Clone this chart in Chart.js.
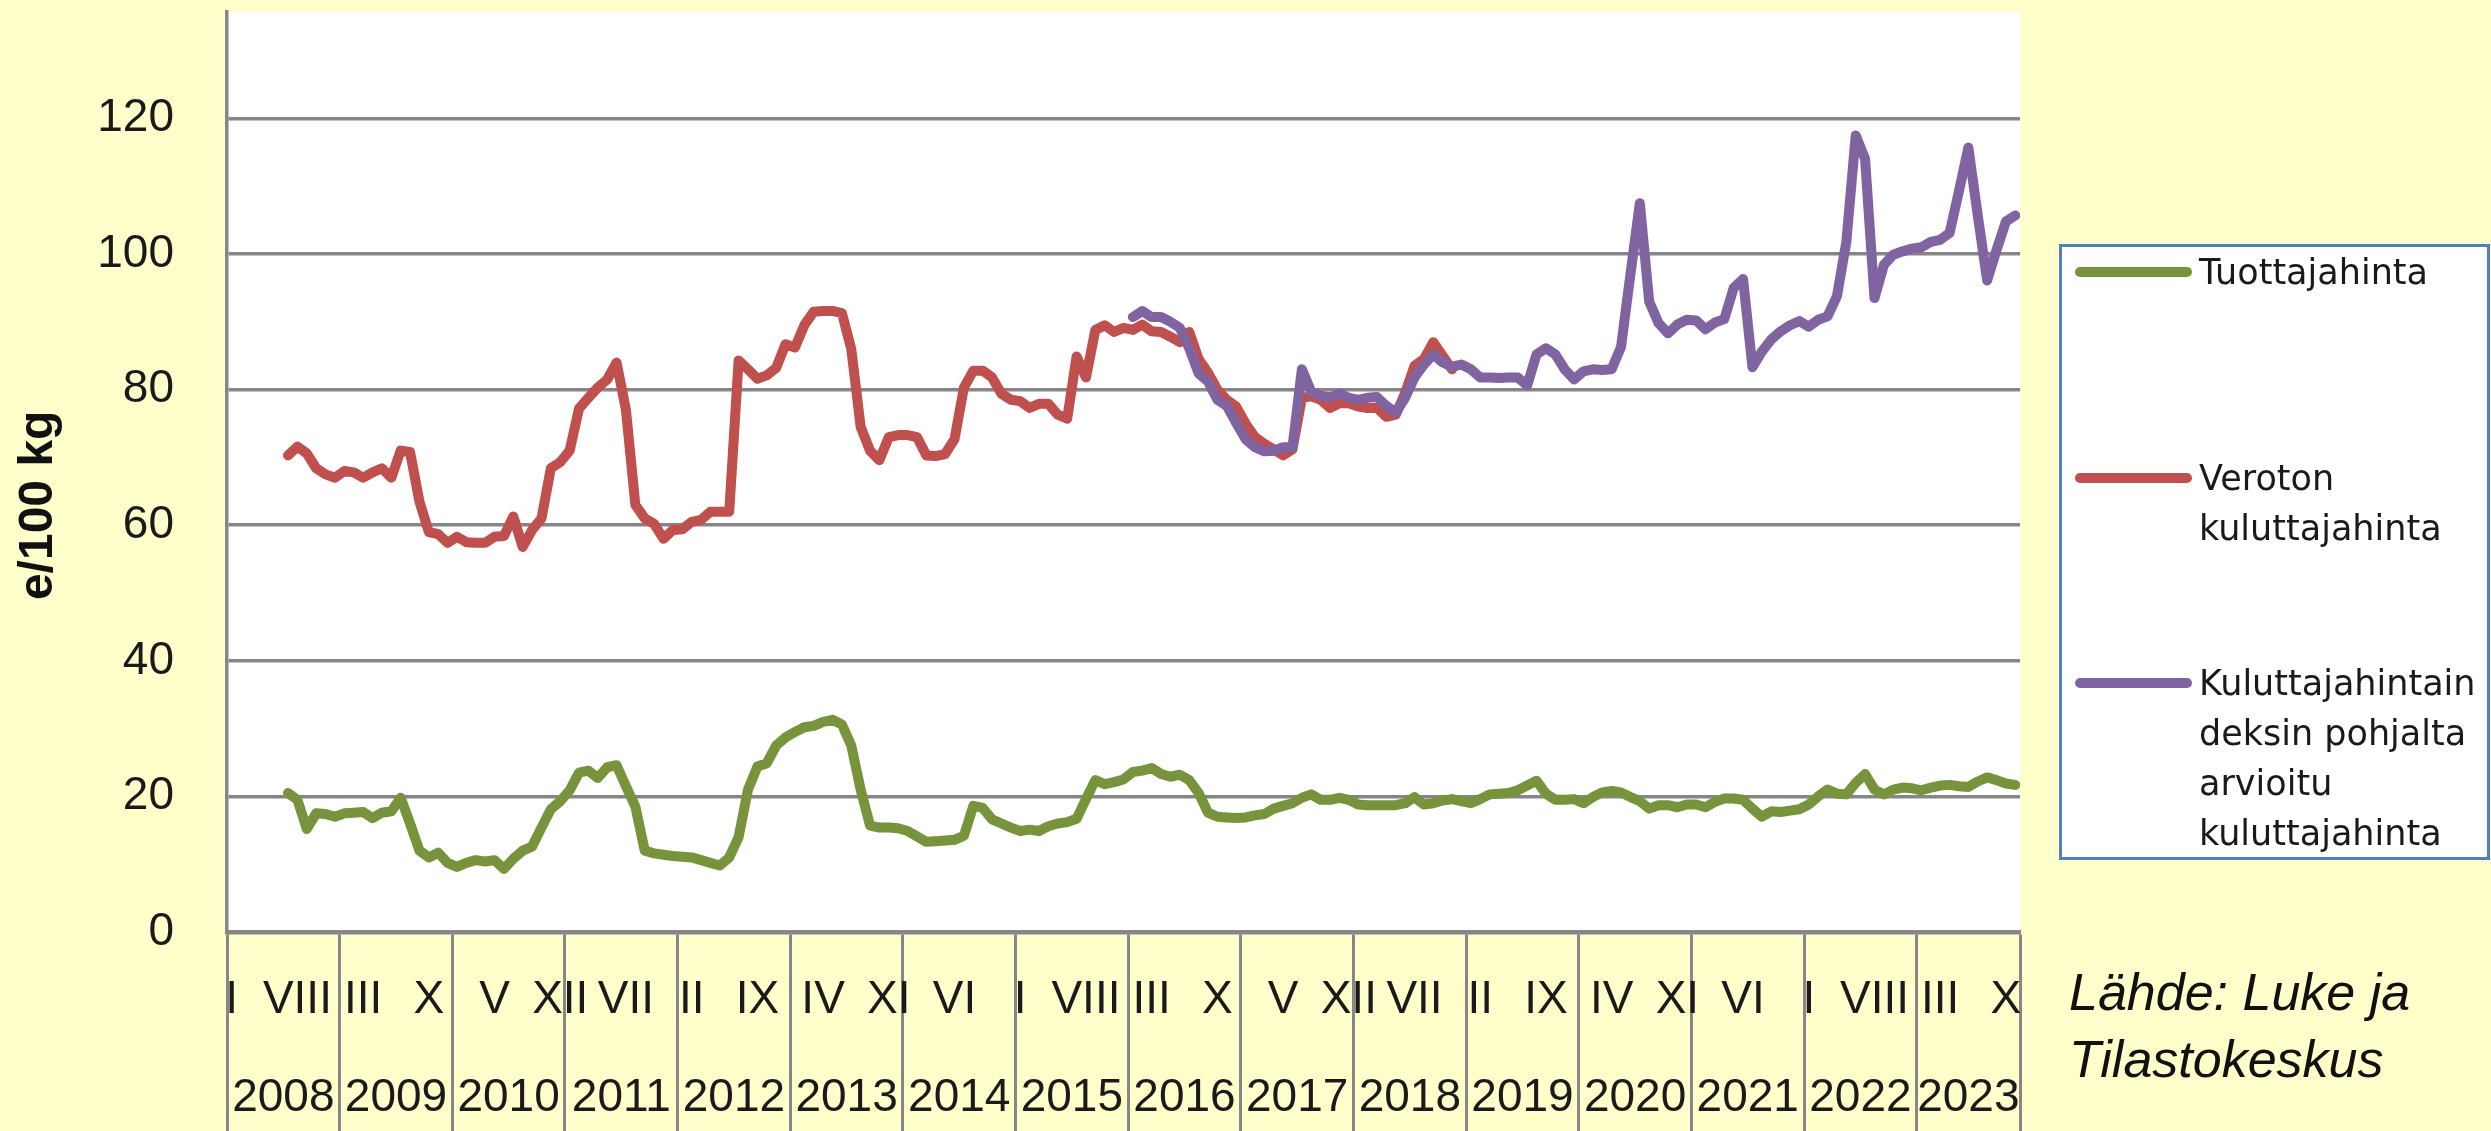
<!DOCTYPE html>
<html lang="fi">
<head>
<meta charset="utf-8">
<title>Tuottaja- ja kuluttajahinnat</title>
<script src="https://cdn.jsdelivr.net/npm/chart.js@4.4.1/dist/chart.umd.min.js"></script>
<style>
  html, body { margin: 0; padding: 0; background: #FFFFCC; }
  #pohja { position: relative; width: 2491px; height: 1131px; overflow: hidden; }
  #kaavio { position: absolute; left: 0; top: 0; }
  #legenda {
    position: absolute; left: 2059px; top: 244px; width: 425px; height: 610px;
    border: 3px solid #4F81BD; background: #fff;
    font-family: "DejaVu Sans", sans-serif; font-size: 35px; line-height: 50px; color: #1a1a1a;
  }
  #legenda .rivi { position: relative; height: 205.5px; padding-left: 137px; }
  #legenda .viiva { position: absolute; left: 13px; top: 20px; width: 117px; height: 10px; border-radius: 5px; }
  #lahde {
    position: absolute; left: 2069px; top: 959px;
    font-family: "Liberation Sans", Arial, sans-serif; font-style: italic; font-size: 52px; line-height: 67px; color: #111;
  }
</style>
</head>
<body>
<div id="pohja">
  <canvas id="kaavio" width="2491" height="1131"></canvas>
  <div id="legenda"></div>
  <div id="lahde">Lähde: Luke ja<br>Tilastokeskus</div>
</div>
<script>
// Kuukausi-indeksi 0 = tammikuu 2008, viimeinen 190 = marraskuu 2023
const kuukausia = 191;
const vuodet = ['2008', '2009', '2010', '2011', '2012', '2013', '2014', '2015',
  '2016', '2017', '2018', '2019', '2020', '2021', '2022', '2023'];
// joka seitsemäs kuukausi nimetty (indeksit 0, 7, 14, ...)
const kuukausiNimet = ['I', 'VIII', 'III', 'X', 'V', 'XII', 'VII', 'II', 'IX', 'IV', 'XI', 'VI',
  'I', 'VIII', 'III', 'X', 'V', 'XII', 'VII', 'II', 'IX', 'IV', 'XI', 'VI', 'I', 'VIII', 'III', 'X'];
const yTikit = [0, 20, 40, 60, 80, 100, 120];

// Tuottajahinta, alkaa heinäkuusta 2008 (indeksi 6)
const tuottajaAlku = 6;
const tuottajahinta = [
  20.5, 19.5, 15.2, 17.5, 17.4, 17.0, 17.5, 17.6, 17.7, 16.8, 17.6, 17.8, 19.8, 16.0,
  12.0, 11.0, 11.7, 10.2, 9.6, 10.2, 10.6, 10.4, 10.6, 9.3, 10.8, 12.0, 12.6, 15.4,
  18.1, 19.3, 20.9, 23.5, 23.8, 22.7, 24.3, 24.6, 21.5, 18.5, 12.0, 11.6, 11.4, 11.2,
  11.1, 11.0, 10.6, 10.2, 9.8, 11.0, 14.0, 21.0, 24.4, 24.9, 27.5, 28.7, 29.5, 30.2,
  30.4, 31.0, 31.3, 30.6, 27.5, 21.0, 15.7, 15.4, 15.4, 15.3, 14.9, 14.1, 13.3, 13.4,
  13.5, 13.6, 14.2, 18.6, 18.3, 16.6, 16.0, 15.4, 14.9, 15.1, 14.9, 15.6, 16.0, 16.2,
  16.7, 19.6, 22.4, 21.8, 22.1, 22.5, 23.6, 23.8, 24.2, 23.3, 22.9, 23.2, 22.4, 20.5,
  17.6, 17.0, 16.9, 16.8, 16.9, 17.2, 17.4, 18.2, 18.6, 19.0, 19.8, 20.3, 19.5, 19.5,
  19.8, 19.5, 18.8, 18.7, 18.7, 18.7, 18.7, 19.0, 19.9, 18.8, 19.0, 19.4, 19.6, 19.3,
  19.0, 19.6, 20.3, 20.4, 20.5, 20.9, 21.6, 22.3, 20.4, 19.5, 19.5, 19.6, 19.0, 19.9,
  20.6, 20.8, 20.6, 19.9, 19.3, 18.2, 18.7, 18.7, 18.4, 18.8, 18.8, 18.4, 19.2, 19.7,
  19.7, 19.5, 18.2, 17.0, 17.8, 17.7, 17.9, 18.1, 18.8, 20.0, 21.0, 20.4, 20.3, 22.0,
  23.3, 21.0, 20.3, 21.0, 21.3, 21.2, 20.9, 21.3, 21.6, 21.7, 21.5, 21.4, 22.2, 22.8,
  22.4, 21.9, 21.7
];

// Veroton kuluttajahinta, heinäkuu 2008 - marraskuu 2018
const verotonAlku = 6;
const verotonHinta = [
  70.3, 71.6, 70.6, 68.4, 67.5, 67.0, 68.0, 67.8, 67.0, 67.8, 68.4, 67.0, 71.0, 70.8,
  63.5, 59.0, 58.7, 57.4, 58.3, 57.5, 57.4, 57.4, 58.3, 58.4, 61.3, 56.8, 59.3, 61.0,
  68.4, 69.3, 71.0, 77.2, 78.8, 80.3, 81.5, 84.0, 77.0, 63.0, 61.0, 60.2, 58.0, 59.3,
  59.4, 60.5, 60.8, 62.0, 62.0, 62.0, 84.3, 83.0, 81.6, 82.1, 83.2, 86.7, 86.2, 89.5,
  91.5, 91.6, 91.6, 91.3, 86.0, 74.5, 71.0, 69.6, 73.0, 73.3, 73.3, 73.0, 70.3, 70.2,
  70.5, 72.7, 80.3, 82.8, 82.8, 81.8, 79.4, 78.5, 78.3, 77.3, 77.9, 77.9, 76.3, 75.7,
  84.9, 81.8, 88.8, 89.5, 88.5, 89.1, 88.8, 89.6, 88.6, 88.5, 87.8, 87.0, 88.5, 84.5,
  82.5, 80.0, 78.5, 77.5, 75.0, 73.0, 72.0, 71.2, 70.3, 71.2, 78.8, 79.0, 78.5, 77.3,
  78.0, 78.0, 77.5, 77.3, 77.3, 76.0, 76.3, 79.5, 83.5, 84.5, 87.0, 85.0, 83.0
];

// Kuluttajahintaindeksin pohjalta arvioitu, tammikuu 2016 alkaen
const arvioituAlku = 96;
const arvioituHinta = [
  90.7, 91.6, 90.7, 90.7, 90.0, 89.1, 86.1, 82.4, 81.2, 78.5, 77.6, 75.1, 72.7, 71.5,
  70.9, 71.0, 71.5, 71.5, 83.0, 79.7, 79.1, 78.9, 79.4, 78.8, 78.5, 78.8, 78.9, 77.6,
  76.6, 78.8, 81.8, 83.7, 85.2, 84.0, 83.4, 83.7, 83.0, 81.8, 81.8, 81.7, 81.8, 81.8,
  80.6, 85.2, 86.1, 85.2, 83.0, 81.5, 82.7, 83.0, 82.9, 83.0, 86.3, 97.0, 107.5, 93.0,
  89.8, 88.3, 89.6, 90.3, 90.2, 88.9, 89.9, 90.4, 95.0, 96.3, 83.3, 85.6, 87.4, 88.6,
  89.5, 90.1, 89.3, 90.3, 90.8, 93.8, 101.8, 117.5, 114.0, 93.5, 98.4, 99.9, 100.4, 100.8,
  101.0, 101.8, 102.1, 103.1, 109.3, 115.7, 105.7, 96.1, 100.6, 104.8, 105.7
];

const pisteet = (arvot, alku) => arvot.map((v, i) => ({ x: alku + i, y: v }));

// x-akselin tikit: vuosirajat (viiva), kuukaudet (ylärivi), vuodet (alarivi)
const xNimet = new Map();
const xRajat = new Set();
vuodet.forEach((v, k) => {
  xRajat.add(k * 12 - 0.5);
  const loppu = Math.min((k + 1) * 12, kuukausia) - 0.5;
  xNimet.set((k * 12 - 0.5 + loppu) / 2, ['', v]);
});
xRajat.add(kuukausia - 0.5);
kuukausiNimet.forEach((n, j) => xNimet.set(j * 7, [n, '']));

const harmaa = '#868686';

const taustaPlugin = {
  id: 'tausta',
  beforeDraw(chart) {
    const { ctx, chartArea: a } = chart;
    ctx.save();
    ctx.fillStyle = '#ffffff';
    ctx.fillRect(a.left, a.top, a.right - a.left, a.bottom - a.top);
    ctx.restore();
  }
};

Chart.defaults.color = '#1a1a1a';
Chart.defaults.font.family = '"Liberation Sans", Arial, sans-serif';

const viivaTyyli = {
  borderWidth: 10,
  pointRadius: 0,
  tension: 0,
  fill: false,
  borderCapStyle: 'round',
  borderJoinStyle: 'round'
};

const kaavio = new Chart(document.getElementById('kaavio'), {
  type: 'line',
  data: {
    datasets: [
      { label: 'Tuottajahinta', data: pisteet(tuottajahinta, tuottajaAlku),
        borderColor: '#77933C', backgroundColor: '#77933C', order: 0, ...viivaTyyli },
      { label: 'Veroton\nkuluttajahinta', data: pisteet(verotonHinta, verotonAlku),
        borderColor: '#C0504D', backgroundColor: '#C0504D', order: 2, ...viivaTyyli },
      { label: 'Kuluttajahintain\ndeksin pohjalta\narvioitu\nkuluttajahinta', data: pisteet(arvioituHinta, arvioituAlku),
        borderColor: '#8064A2', backgroundColor: '#8064A2', order: 1, ...viivaTyyli }
    ]
  },
  options: {
    responsive: false,
    animation: false,
    events: [],
    layout: { padding: { left: 0, top: 12, right: 471, bottom: 0 } },
    plugins: {
      legend: { display: false },
      tooltip: { enabled: false }
    },
    scales: {
      x: {
        type: 'linear',
        min: -0.5,
        max: kuukausia - 0.5,
        afterBuildTicks: (akseli) => {
          const arvot = [...xRajat, ...xNimet.keys()].sort((a, b) => a - b);
          akseli.ticks = arvot.map(v => ({ value: v }));
        },
        afterFit: (akseli) => {
          akseli.height = 199;
          akseli.paddingLeft = 0;
          akseli.paddingRight = 0;
        },
        grid: {
          display: true,
          drawOnChartArea: false,
          drawTicks: true,
          tickLength: 199,
          tickWidth: 3,
          tickColor: (c) => (c.tick && xRajat.has(c.tick.value)) ? harmaa : 'rgba(0,0,0,0)'
        },
        border: { display: true, color: harmaa, width: 4.5 },
        ticks: {
          autoSkip: false,
          maxRotation: 0,
          minRotation: 0,
          padding: -180,
          font: { size: 46, lineHeight: '98px' },
          callback: (v) => xNimet.get(v) || ''
        }
      },
      y: {
        min: 0,
        max: 135.7,
        afterBuildTicks: (akseli) => { akseli.ticks = yTikit.map(v => ({ value: v })); },
        afterFit: (akseli) => {
          akseli.width = 227;
          akseli.paddingTop = 0;
          akseli.paddingBottom = 0;
        },
        grid: { color: harmaa, lineWidth: 3.5, drawTicks: false },
        border: { display: true, color: harmaa, width: 3.5 },
        ticks: { padding: 53, font: { size: 46 } },
        title: {
          display: true,
          text: 'e/100 kg\u00a0\u00a0\u00a0\u00a0\u00a0',
          color: '#111',
          padding: { top: 10, bottom: 0 },
          font: { size: 48, weight: 'bold' }
        }
      }
    }
  },
  plugins: [taustaPlugin]
});

// Selite HTML:nä, jotta monirivinen teksti onnistuu
const legenda = document.getElementById('legenda');
kaavio.data.datasets.forEach(ds => {
  const rivi = document.createElement('div');
  rivi.className = 'rivi';
  rivi.innerHTML = `<span class="viiva" style="background:${ds.borderColor}"></span>` +
    ds.label.split('\n').join('<br>');
  legenda.appendChild(rivi);
});
</script>
</body>
</html>
